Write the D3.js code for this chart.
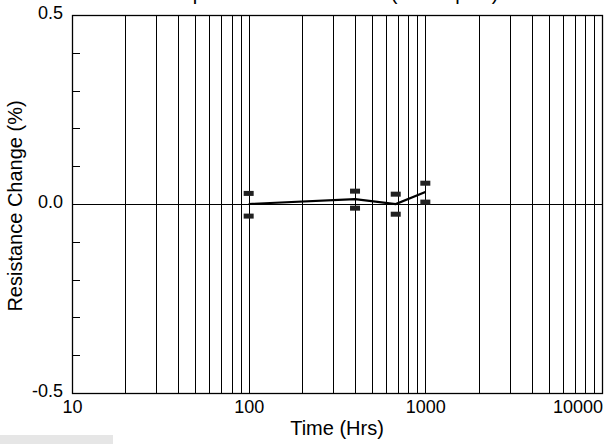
<!DOCTYPE html>
<html>
<head>
<meta charset="utf-8">
<script src="https://cdn.jsdelivr.net/npm/d3@7"></script>
<style>
body { margin: 0; background: #fff; }
text { font-family: "Liberation Sans", Arial, sans-serif; fill: #000; }
</style>
</head>
<body>
<div id="chart"></div>
<script>
var width = 614,
    height = 444

// data
var times = [100, 400, 680, 1000]
var changes = [0.0, 0.013, 0.0, 0.032]
var upper = [0.028, 0.034, 0.026, 0.055]
var lower = [-0.032, -0.011, -0.027, 0.005]
var xTicks = [10, 100, 1000, 10000]
var yTicks = [-0.5, 0.0, 0.5]
var titleText = "Temperature Rise at Load (8 Samples)"

var margin = {top: 15, right: 12, bottom: 51, left: 72}

var svg = d3.select("#chart")
    .append("svg")
    .attr("width", width)
    .attr("height", height)

var x = d3.scaleLog().domain([10, 10000]).range([margin.left, width - margin.right])
var y = d3.scaleLinear().domain([-0.5, 0.5]).range([height - margin.bottom, margin.top])

// title (cut off at the top, as in the original)
svg.append("text").attr("x", 155).attr("y", 0)
    .text(titleText).style("font-size", "20px")

// vertical grid
svg.append("g").selectAll("line")
    .data(x.ticks())
    .join("line")
    .attr("x1", d => Math.round(x(d)) + 0.5).attr("x2", d => Math.round(x(d)) + 0.5)
    .attr("y1", y(0.5)).attr("y2", y(-0.5))
    .attr("stroke", "#000").attr("stroke-width", 1)

// zero line
svg.append("line")
    .attr("x1", x(10)).attr("x2", x(10000))
    .attr("y1", Math.round(y(0)) + 0.5).attr("y2", Math.round(y(0)) + 0.5)
    .attr("stroke", "#000")

// small inner ticks on the left
svg.append("g").selectAll("line")
    .data(y.ticks(10))
    .join("line")
    .attr("x1", x(10)).attr("x2", x(10) + 8)
    .attr("y1", d => Math.round(y(d)) + 0.5).attr("y2", d => Math.round(y(d)) + 0.5)
    .attr("stroke", "#000")

// frame
svg.append("rect")
    .attr("x", x(10) + 0.5).attr("y", y(0.5) + 0.5)
    .attr("width", x(10000) - x(10)).attr("height", y(-0.5) - y(0.5))
    .attr("fill", "none").attr("stroke", "#000").attr("stroke-width", 1.3)

// axes
var xAxis = svg.append("g")
    .attr("transform", "translate(0," + y(-0.5) + ")")
    .call(d3.axisBottom(x).tickValues(xTicks).tickFormat(d3.format("d")).tickSize(0).tickPadding(7))
xAxis.select(".domain").remove()
xAxis.selectAll("text").style("font-size", "18px").attr("fill", "#000")
xAxis.selectAll("text").filter(d => d == 10000).attr("text-anchor", "end").attr("x", 0)
xAxis.selectAll(".tick").filter(d => d == 10000).attr("transform", "translate(" + (x(10000) + 1) + ",0)")

var yAxis = svg.append("g")
    .attr("transform", "translate(" + x(10) + ",0)")
    .call(d3.axisLeft(y).tickValues(yTicks).tickFormat(d => d.toFixed(1)).tickSize(0).tickPadding(9))
yAxis.select(".domain").remove()
yAxis.selectAll("text").style("font-size", "18px").attr("fill", "#000").attr("dy", "0.2em")

// axis titles
svg.append("text").attr("x", (x(10) + x(10000)) / 2).attr("y", 435)
    .attr("text-anchor", "middle").text("Time (Hrs)").style("font-size", "20px")
svg.append("text").attr("transform", "translate(22," + (y(0) + 2) + ") rotate(-90)")
    .attr("text-anchor", "middle").text("Resistance Change (%)").style("font-size", "20px")

// mean line
svg.append("path")
    .datum(times.map((t, i) => [t, changes[i]]))
    .attr("d", d3.line().x(d => x(d[0])).y(d => y(d[1])))
    .attr("fill", "none").attr("stroke", "#000").attr("stroke-width", 2.2)

// min / max dashes
var bars = times.map((t, i) => ({t: t, v: upper[i]})).concat(times.map((t, i) => ({t: t, v: lower[i]})))
svg.append("g").selectAll("rect")
    .data(bars)
    .join("rect")
    .attr("x", d => x(d.t) - 5).attr("y", d => y(d.v) - 2.5)
    .attr("width", 10).attr("height", 5)
    .attr("fill", "#222")

// grey strip in the lower left corner
svg.append("rect").attr("x", 0).attr("y", 435).attr("width", 113).attr("height", 9).attr("fill", "#e6e6e6")
</script>
</body>
</html>
